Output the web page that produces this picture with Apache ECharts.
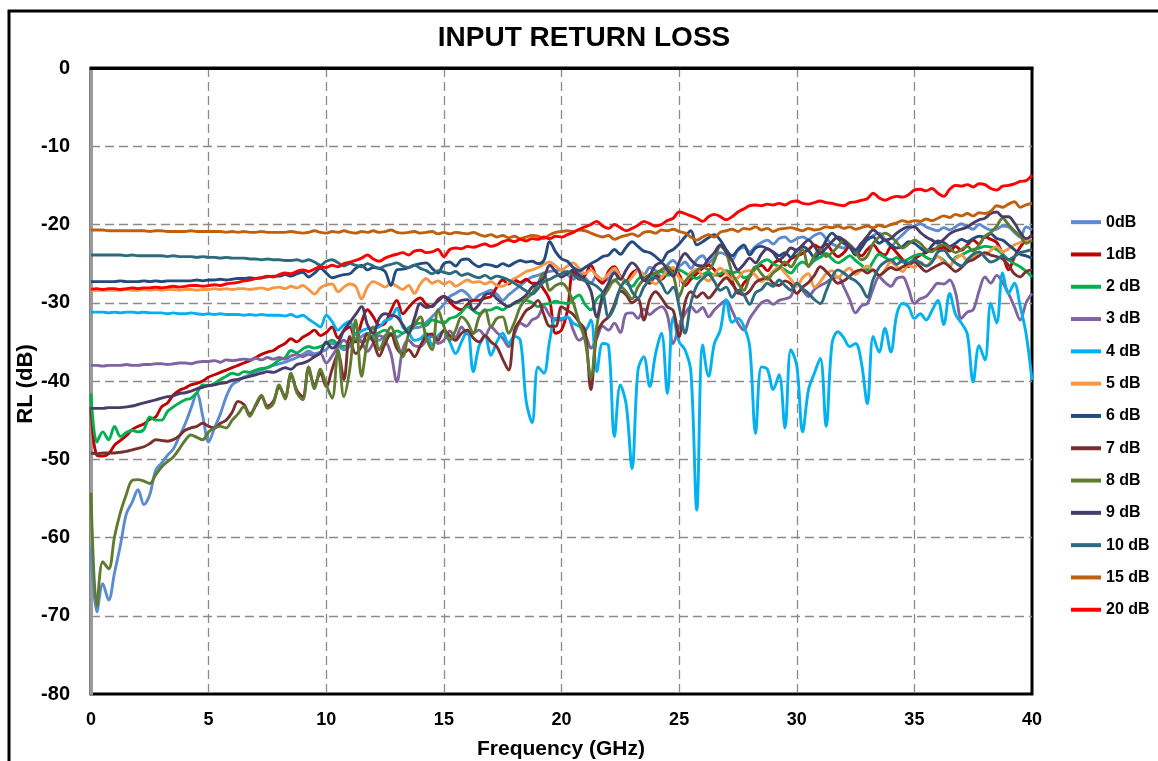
<!DOCTYPE html>
<html>
<head>
<meta charset="utf-8">
<script src="https://cdn.jsdelivr.net/npm/echarts@6/dist/echarts.min.js"></script>
<style>
html,body{margin:0;padding:0;background:#fff;}
#chart{width:1158px;height:761px;}
</style>
</head>
<body>
<div id="chart"></div>
<script>
// Frequency grid (GHz), 0.25 GHz steps from 0 to 40
const FREQ = Array.from({length:161}, (_, i) => i * 0.25);
const X_TICKS = [0,5,10,15,20,25,30,35,40];
const Y_TICKS = [0,-10,-20,-30,-40,-50,-60,-70,-80];

const SERIES_NAMES = ['0dB','1dB','2 dB','3 dB','4 dB','5 dB','6 dB','7 dB','8 dB','9 dB','10 dB','15 dB','20 dB'];

const RL_0dB = [-61.2,-69.5,-65.9,-68.0,-64.5,-61.0,-57.0,-55.5,-53.9,-55.8,-54.5,-51.4,-50.5,-49.5,-48.7,-47.1,-45.5,-43.5,-41.6,-44.5,
-47.8,-46.0,-44.2,-42.0,-40.5,-40.0,-39.5,-39.2,-38.8,-38.6,-38.3,-38.0,-37.8,-37.6,-37.3,-37.0,-36.6,-36.2,-36.5,-36.3,
-36.0,-35.2,-35.5,-36.0,-35.6,-34.8,-34.3,-33.9,-34.5,-34.8,-34.2,-33.9,-34.4,-33.9,-33.5,-33.2,-33.1,-32.5,-31.8,-31.0,
-30.2,-29.2,-28.8,-28.4,-28.9,-29.7,-29.0,-28.7,-28.4,-28.9,-29.7,-29.0,-28.4,-27.8,-27.2,-26.7,-26.5,-26.2,-26.0,-25.9,
-25.8,-26.4,-27.0,-26.2,-26.8,-27.5,-26.5,-27.3,-26.9,-26.0,-26.8,-27.4,-26.6,-25.8,-26.4,-25.5,-25.9,-26.7,-25.2,-24.6,
-25.3,-24.8,-25.6,-24.5,-24.0,-24.9,-24.2,-23.6,-23.9,-24.5,-23.3,-22.9,-23.5,-22.8,-22.3,-22.0,-22.5,-21.8,-21.6,-22.2,
-21.8,-21.6,-21.9,-21.4,-21.1,-21.8,-22.5,-22.8,-23.0,-22.6,-23.2,-22.4,-22.0,-21.4,-21.1,-21.9,-22.8,-22.0,-21.3,-20.6,
-20.2,-19.9,-20.3,-20.6,-20.8,-20.4,-20.7,-20.3,-19.9,-20.3,-20.6,-20.0,-20.4,-20.7,-20.6,-20.2,-20.3,-21.0,-21.6,-20.3,
-20.7];

const RL_1dB = [-43.3,-49.5,-49.6,-49.3,-48.2,-47.6,-47.0,-46.2,-45.8,-45.5,-44.9,-44.6,-43.3,-42.8,-41.8,-41.2,-40.9,-40.5,-40.3,-40.0,
-39.5,-39.2,-38.9,-38.6,-38.3,-38.0,-37.7,-37.4,-37.0,-36.6,-36.3,-36.1,-35.6,-35.2,-34.6,-35.0,-34.4,-34.0,-33.5,-34.2,
-33.8,-33.1,-34.5,-33.6,-33.1,-35.0,-32.5,-30.9,-31.8,-32.9,-32.6,-31.0,-29.7,-31.4,-30.6,-29.8,-29.4,-30.2,-30.5,-29.6,
-29.2,-29.9,-30.6,-30.9,-30.2,-29.7,-29.7,-29.4,-29.2,-28.0,-27.1,-27.6,-27.1,-27.4,-27.0,-27.5,-27.5,-28.3,-29.7,-33.9,
-33.5,-31.0,-26.0,-27.0,-26.5,-25.2,-26.8,-27.5,-26.0,-25.4,-26.6,-27.2,-26.2,-25.8,-26.9,-27.5,-26.5,-27.0,-26.2,-25.9,
-26.4,-27.8,-27.0,-26.3,-25.6,-25.2,-25.8,-26.6,-26.0,-27.2,-28.8,-27.5,-26.7,-25.6,-25.2,-25.9,-25.0,-24.6,-25.2,-24.4,
-24.0,-23.7,-23.2,-22.6,-23.0,-22.5,-23.4,-24.1,-23.6,-22.8,-23.5,-24.0,-23.2,-22.6,-23.5,-23.9,-22.9,-23.6,-24.5,-25.4,
-24.4,-23.9,-23.6,-23.2,-23.1,-22.9,-23.4,-22.8,-23.3,-22.6,-22.0,-22.5,-21.6,-21.9,-22.3,-23.8,-25.8,-24.2,-22.9,-22.0,
-21.7];

const RL_2dB = [-41.6,-47.8,-46.5,-47.5,-45.8,-47.1,-46.6,-46.3,-46.5,-46.2,-44.6,-45.0,-45.0,-43.9,-43.3,-42.8,-42.4,-42.2,-41.5,-40.5,
-40.6,-40.3,-39.8,-39.4,-39.0,-39.2,-38.8,-38.9,-38.6,-38.4,-38.3,-37.9,-37.3,-37.0,-36.1,-36.4,-35.9,-35.6,-35.8,-35.6,
-35.2,-34.8,-35.3,-35.6,-35.2,-34.6,-35.0,-34.8,-34.2,-33.8,-33.5,-34.2,-33.6,-33.9,-33.2,-32.8,-32.6,-32.9,-32.2,-32.4,
-32.6,-32.0,-31.8,-31.2,-30.5,-31.0,-31.4,-31.0,-30.9,-30.6,-30.9,-30.4,-30.1,-29.8,-29.7,-30.0,-30.5,-30.2,-30.1,-29.8,
-30.0,-30.1,-29.5,-29.0,-30.2,-30.9,-29.5,-28.8,-27.8,-27.2,-26.7,-27.5,-27.9,-27.0,-26.5,-26.9,-26.2,-26.0,-26.5,-26.3,
-25.8,-26.2,-26.6,-26.9,-26.4,-26.1,-26.5,-26.3,-25.9,-26.2,-26.0,-26.8,-26.5,-25.6,-24.8,-24.5,-25.0,-25.4,-25.8,-26.2,
-25.3,-24.8,-25.2,-24.6,-24.2,-23.7,-24.4,-24.9,-24.5,-24.0,-24.6,-25.2,-25.8,-24.7,-23.8,-24.2,-24.6,-24.2,-24.8,-24.4,
-24.0,-23.8,-24.2,-24.5,-24.1,-24.6,-25.3,-24.2,-23.9,-23.5,-23.2,-23.0,-22.8,-22.9,-23.2,-23.8,-24.5,-25.0,-25.4,-26.0,
-26.7];

const RL_3dB = [-38.0,-38.0,-38.1,-38.0,-38.0,-38.0,-37.9,-38.0,-38.0,-37.9,-37.9,-37.8,-37.8,-37.9,-37.8,-37.7,-37.7,-37.8,-37.6,-37.5,
-37.5,-37.4,-37.6,-37.3,-37.4,-37.3,-37.2,-37.3,-37.1,-37.3,-37.0,-37.2,-37.0,-37.2,-36.8,-36.6,-36.9,-36.6,-36.8,-36.5,
-37.7,-36.8,-35.6,-34.8,-35.5,-33.9,-35.0,-36.2,-35.2,-34.2,-34.8,-36.5,-40.1,-36.0,-34.8,-35.5,-35.6,-34.8,-34.3,-35.2,
-34.8,-33.6,-34.4,-33.1,-34.0,-33.9,-33.5,-34.2,-33.1,-33.8,-34.5,-35.6,-34.0,-32.6,-33.0,-32.2,-31.8,-30.5,-31.6,-32.2,
-32.2,-31.8,-33.5,-34.8,-34.3,-35.8,-34.5,-33.0,-33.5,-32.6,-33.8,-31.4,-31.3,-32.0,-30.8,-31.5,-30.9,-30.5,-31.6,-35.2,
-33.0,-31.4,-30.5,-31.2,-30.6,-31.8,-30.9,-30.2,-29.7,-31.0,-32.6,-33.5,-32.0,-30.9,-30.0,-29.7,-30.2,-29.7,-29.5,-29.2,
-27.5,-28.4,-29.2,-28.3,-27.8,-27.4,-26.9,-26.7,-28.0,-29.6,-31.3,-30.4,-30.1,-28.2,-26.7,-27.4,-27.9,-26.9,-26.7,-28.2,
-30.1,-29.5,-29.2,-28.3,-27.5,-27.6,-27.1,-28.7,-32.0,-31.2,-30.9,-28.5,-26.7,-27.5,-26.5,-27.4,-28.8,-30.5,-32.2,-30.0,
-28.8];

const RL_4dB = [-31.2,-31.2,-31.2,-31.3,-31.2,-31.3,-31.2,-31.2,-31.3,-31.2,-31.3,-31.3,-31.3,-31.4,-31.3,-31.4,-31.4,-31.3,-31.4,-31.5,
-31.4,-31.5,-31.4,-31.5,-31.5,-31.5,-31.6,-31.5,-31.6,-31.5,-31.6,-31.6,-31.6,-31.7,-31.5,-31.8,-31.6,-32.1,-32.6,-33.1,
-31.6,-32.4,-33.5,-32.8,-32.4,-34.1,-33.6,-33.3,-33.2,-33.1,-32.3,-32.0,-30.7,-33.1,-33.8,-34.8,-34.6,-33.9,-35.4,-34.2,
-33.7,-35.0,-36.5,-35.0,-33.5,-38.8,-35.5,-34.3,-36.7,-35.0,-33.9,-35.2,-34.3,-34.8,-42.6,-45.3,-38.2,-39.0,-34.8,-32.0,
-32.0,-31.8,-32.6,-33.0,-33.5,-32.2,-38.8,-35.2,-35.5,-47.1,-40.5,-43.0,-51.2,-38.6,-36.9,-40.7,-36.5,-33.9,-41.6,-31.8,
-35.0,-36.0,-38.8,-56.5,-35.4,-39.4,-35.2,-33.5,-29.6,-32.5,-32.0,-33.0,-35.6,-46.7,-38.2,-38.5,-41.1,-39.2,-46.0,-36.0,
-38.0,-46.5,-41.1,-39.0,-37.1,-45.8,-35.2,-33.7,-34.5,-35.6,-35.2,-37.7,-42.9,-34.3,-36.3,-33.3,-36.3,-31.5,-30.1,-30.5,
-32.0,-31.4,-32.2,-31.0,-29.7,-32.8,-28.8,-31.5,-32.6,-34.0,-40.1,-35.5,-37.3,-30.1,-32.6,-26.2,-28.8,-27.5,-30.5,-34.0,
-39.9];

const RL_5dB = [-28.4,-28.4,-28.4,-28.4,-28.4,-28.4,-28.3,-28.4,-28.4,-28.3,-28.4,-28.3,-28.4,-28.3,-28.3,-28.4,-28.3,-28.3,-28.4,-28.3,
-28.3,-28.2,-28.3,-28.2,-28.3,-28.2,-28.2,-28.3,-28.2,-28.1,-28.3,-28.1,-28.0,-28.2,-27.9,-28.1,-27.8,-28.3,-28.9,-28.1,
-27.7,-27.6,-28.6,-28.0,-27.6,-27.9,-29.5,-28.0,-27.3,-27.6,-28.0,-27.5,-27.9,-28.3,-27.8,-28.8,-27.6,-26.9,-27.5,-27.2,
-27.6,-27.3,-27.9,-27.5,-27.1,-27.4,-27.3,-27.6,-27.3,-27.8,-27.9,-27.4,-26.9,-26.5,-26.0,-25.8,-25.5,-25.1,-24.8,-25.3,
-25.8,-25.3,-24.9,-25.6,-26.3,-25.8,-26.6,-27.0,-26.3,-25.6,-26.7,-27.4,-26.7,-25.9,-26.4,-27.1,-27.6,-26.8,-25.9,-25.5,
-26.8,-27.3,-26.1,-25.7,-26.6,-27.2,-26.4,-25.6,-26.2,-27.0,-26.8,-26.0,-25.9,-26.5,-27.3,-26.7,-26.0,-25.4,-26.2,-27.0,
-27.9,-26.8,-26.3,-28.0,-27.3,-26.3,-25.9,-26.8,-26.1,-25.6,-26.4,-25.8,-25.3,-25.9,-26.5,-25.8,-24.8,-25.4,-26.0,-25.2,
-25.5,-24.8,-25.3,-24.6,-24.1,-24.8,-25.2,-24.4,-23.9,-24.6,-24.2,-23.6,-23.9,-23.3,-22.8,-23.5,-23.1,-22.6,-22.3,-22.0,
-21.9];

const RL_6dB = [-27.3,-27.3,-27.3,-27.3,-27.3,-27.2,-27.3,-27.3,-27.3,-27.2,-27.3,-27.2,-27.3,-27.2,-27.2,-27.2,-27.2,-27.2,-27.1,-27.2,
-27.1,-27.1,-27.0,-27.1,-27.0,-26.9,-26.9,-26.8,-26.9,-26.8,-26.7,-26.6,-26.6,-26.4,-26.6,-26.3,-26.1,-26.7,-26.2,-25.6,
-26.2,-26.8,-26.6,-26.4,-26.3,-25.6,-25.2,-25.8,-25.5,-25.6,-26.0,-27.8,-25.8,-25.7,-25.5,-25.2,-25.0,-24.9,-25.6,-26.2,
-25.0,-24.8,-25.3,-24.5,-24.4,-25.0,-25.4,-25.1,-25.2,-25.4,-25.0,-25.3,-24.9,-24.6,-24.8,-24.7,-25.0,-24.6,-22.2,-23.5,
-24.4,-24.7,-25.5,-25.9,-25.5,-25.0,-24.6,-24.1,-23.9,-23.2,-23.8,-22.9,-22.2,-22.8,-23.4,-23.6,-24.1,-24.7,-23.6,-23.2,
-22.5,-21.6,-20.8,-22.6,-22.2,-21.7,-21.3,-22.0,-23.2,-24.0,-23.2,-22.6,-23.9,-23.0,-22.8,-23.1,-23.5,-24.0,-23.6,-24.2,
-23.3,-22.8,-23.3,-24.2,-23.5,-22.0,-21.1,-21.8,-22.4,-22.9,-23.9,-23.0,-21.9,-21.6,-22.4,-22.0,-22.6,-23.0,-22.8,-22.2,
-22.4,-23.0,-23.5,-22.7,-22.1,-22.3,-22.8,-22.4,-21.9,-22.2,-21.8,-21.5,-21.6,-21.2,-21.8,-22.0,-22.6,-23.2,-23.8,-24.0,
-24.3];

const RL_7dB = [-49.2,-49.3,-49.2,-49.2,-49.2,-49.1,-49.0,-48.8,-48.6,-48.4,-48.0,-47.5,-47.6,-47.7,-47.5,-47.0,-46.3,-46.0,-45.8,-45.4,
-45.8,-46.0,-45.4,-45.0,-44.0,-42.6,-43.0,-44.2,-43.2,-42.0,-43.2,-42.6,-40.8,-42.0,-39.2,-41.2,-42.0,-38.5,-40.5,-39.0,
-40.7,-38.5,-36.5,-39.8,-34.3,-36.5,-35.6,-34.0,-35.0,-36.8,-35.2,-34.0,-35.8,-36.5,-36.0,-36.9,-35.5,-34.2,-34.0,-34.8,
-33.5,-34.2,-34.8,-33.9,-33.5,-34.5,-35.0,-34.2,-35.0,-35.6,-37.2,-38.6,-33.5,-32.2,-31.0,-30.5,-29.7,-31.5,-33.0,-33.0,
-30.5,-31.0,-31.5,-32.5,-33.5,-41.1,-34.0,-32.5,-31.8,-30.2,-28.5,-29.0,-30.0,-29.5,-32.2,-29.6,-28.6,-29.4,-30.5,-31.0,
-34.3,-30.0,-28.6,-29.3,-28.7,-29.4,-28.6,-27.5,-26.8,-27.6,-28.6,-29.0,-28.5,-27.4,-27.0,-26.8,-27.5,-27.8,-27.2,-27.6,
-28.8,-28.0,-27.4,-26.5,-25.4,-26.0,-26.8,-27.5,-27.2,-26.6,-26.0,-25.8,-26.2,-25.8,-26.5,-26.0,-25.5,-25.8,-25.4,-25.0,
-24.8,-25.4,-26.0,-25.6,-25.2,-24.9,-25.4,-26.0,-25.5,-24.8,-24.5,-24.0,-23.6,-23.9,-24.1,-24.4,-25.2,-26.3,-26.7,-26.0,
-25.8];

const RL_8dB = [-54.3,-68.8,-63.1,-64.0,-59.9,-56.8,-54.5,-52.7,-52.6,-52.8,-53.1,-52.0,-51.0,-50.3,-49.7,-48.7,-47.6,-46.9,-47.2,-47.5,
-46.5,-46.0,-45.8,-46.0,-45.0,-44.2,-43.3,-44.5,-43.0,-41.8,-43.5,-42.9,-40.5,-42.3,-39.0,-41.5,-42.4,-38.2,-41.0,-38.5,
-40.5,-42.2,-36.0,-42.0,-38.5,-32.2,-39.4,-35.0,-33.1,-36.0,-34.5,-33.1,-35.0,-36.9,-34.0,-32.8,-31.8,-34.5,-36.0,-30.9,
-33.0,-34.8,-33.5,-31.8,-32.5,-33.9,-31.8,-30.9,-33.1,-32.0,-31.8,-33.9,-32.5,-30.5,-29.5,-28.8,-27.5,-26.2,-28.4,-27.8,
-27.5,-28.2,-30.0,-32.5,-34.8,-39.5,-33.0,-29.5,-28.2,-27.1,-27.8,-28.6,-29.5,-28.0,-27.0,-26.4,-26.2,-25.8,-25.4,-26.5,
-29.2,-27.3,-26.5,-25.9,-25.4,-25.8,-24.6,-22.8,-23.6,-26.2,-27.5,-28.4,-26.6,-25.4,-26.3,-27.0,-26.2,-25.6,-24.8,-25.4,
-24.3,-23.2,-25.4,-24.0,-23.2,-24.1,-23.6,-22.8,-22.0,-22.6,-23.5,-24.5,-24.0,-22.4,-21.6,-21.1,-21.5,-22.3,-23.0,-22.5,
-22.0,-22.4,-23.2,-23.5,-22.8,-22.6,-23.0,-23.6,-23.2,-22.8,-23.4,-22.6,-21.5,-21.0,-20.2,-19.2,-20.0,-20.8,-21.5,-22.4,
-22.0];

const RL_9dB = [-43.5,-43.5,-43.5,-43.4,-43.4,-43.4,-43.3,-43.2,-43.0,-42.8,-42.6,-42.4,-42.2,-42.0,-41.9,-41.6,-41.5,-41.3,-41.0,-40.8,
-40.6,-40.5,-40.3,-40.2,-39.9,-39.8,-39.6,-39.4,-39.2,-39.0,-38.8,-38.9,-38.6,-38.3,-38.5,-37.9,-37.7,-37.4,-36.9,-36.4,
-35.0,-35.8,-35.2,-33.5,-32.5,-31.5,-30.5,-32.8,-33.9,-32.0,-31.4,-31.6,-31.8,-32.8,-33.9,-32.0,-30.1,-30.6,-30.4,-29.8,
-29.2,-29.6,-30.0,-29.7,-29.6,-30.9,-30.2,-29.0,-28.8,-29.5,-30.1,-30.5,-30.0,-29.6,-29.0,-28.0,-27.5,-26.8,-25.2,-26.0,
-26.7,-26.3,-25.8,-26.5,-27.1,-28.5,-31.8,-29.0,-27.5,-26.2,-27.0,-25.8,-24.9,-25.6,-27.2,-26.5,-25.2,-24.9,-25.8,-26.6,
-24.8,-23.7,-24.5,-25.2,-25.3,-24.4,-23.6,-22.6,-23.5,-24.6,-25.8,-25.1,-24.3,-24.9,-23.8,-23.1,-23.6,-24.5,-23.9,-23.0,
-23.3,-22.6,-22.0,-22.8,-23.7,-23.0,-22.2,-21.6,-22.0,-22.8,-23.3,-22.4,-21.5,-20.7,-21.3,-22.0,-21.8,-21.1,-20.6,-20.3,
-20.3,-21.0,-21.6,-22.0,-22.4,-21.9,-21.2,-20.8,-20.6,-20.3,-19.8,-19.4,-19.2,-18.6,-18.4,-19.0,-19.0,-19.8,-21.0,-21.8,
-21.3];

const RL_10dB = [-23.9,-23.9,-23.9,-23.9,-23.9,-23.9,-24.0,-23.9,-24.0,-24.0,-24.0,-24.0,-24.0,-24.1,-24.0,-24.1,-24.1,-24.1,-24.2,-24.1,
-24.2,-24.2,-24.3,-24.2,-24.3,-24.3,-24.3,-24.4,-24.4,-24.5,-24.4,-24.5,-24.5,-24.6,-24.6,-24.5,-24.7,-24.5,-24.8,-25.2,
-24.7,-24.5,-24.9,-25.3,-25.0,-25.2,-25.4,-25.0,-25.3,-25.6,-25.3,-25.1,-24.9,-25.3,-25.5,-25.2,-25.6,-25.9,-26.3,-25.9,
-26.1,-26.3,-26.0,-26.5,-26.3,-26.6,-26.8,-26.5,-26.9,-26.6,-26.8,-27.1,-27.5,-28.0,-28.5,-28.9,-28.2,-27.3,-27.0,-26.6,
-26.3,-26.0,-26.5,-26.9,-27.2,-27.5,-27.9,-28.7,-31.8,-30.5,-28.1,-27.2,-28.6,-29.4,-28.0,-27.1,-26.8,-27.6,-28.8,-28.0,
-30.5,-33.9,-30.0,-27.8,-26.9,-26.4,-27.3,-28.4,-28.0,-29.3,-28.4,-29.0,-30.2,-28.7,-28.3,-27.5,-27.9,-27.1,-27.8,-28.4,
-27.5,-28.2,-28.8,-29.6,-30.1,-28.5,-26.7,-25.8,-26.2,-26.8,-27.2,-28.0,-29.3,-27.0,-25.5,-24.8,-24.5,-25.1,-24.6,-24.9,
-24.5,-24.9,-25.3,-24.8,-23.5,-23.3,-24.2,-24.9,-25.3,-24.5,-23.8,-23.5,-24.2,-24.8,-24.5,-24.0,-24.5,-24.1,-23.6,-23.4,
-23.2];

const RL_15dB = [-20.7,-20.7,-20.7,-20.8,-20.8,-20.8,-20.8,-20.8,-20.8,-20.8,-20.9,-20.8,-20.8,-20.9,-20.9,-20.9,-20.9,-20.8,-20.9,-20.9,
-20.9,-20.9,-20.9,-21.0,-20.9,-21.0,-20.9,-21.0,-21.0,-20.9,-21.0,-21.0,-21.0,-21.0,-20.9,-21.0,-21.1,-21.0,-20.8,-21.0,
-21.1,-20.9,-21.0,-20.8,-21.0,-21.1,-20.9,-21.0,-20.8,-21.0,-20.9,-20.7,-21.0,-21.1,-21.0,-20.9,-21.1,-21.0,-20.9,-21.2,
-21.0,-21.2,-21.0,-21.1,-21.2,-21.0,-21.3,-21.5,-21.3,-21.6,-21.4,-21.7,-21.5,-21.8,-21.6,-21.4,-21.5,-21.8,-21.3,-21.0,
-20.9,-20.8,-20.9,-20.7,-20.8,-21.1,-21.4,-21.6,-21.4,-21.9,-21.6,-21.4,-21.2,-21.5,-21.0,-20.9,-21.1,-20.7,-20.8,-20.6,
-20.9,-21.1,-21.6,-22.0,-21.6,-21.3,-21.6,-21.0,-20.8,-20.6,-20.9,-20.5,-20.6,-20.3,-20.7,-20.5,-20.9,-20.6,-20.5,-20.4,
-20.6,-20.8,-20.5,-20.7,-20.6,-20.3,-20.4,-20.2,-20.5,-20.3,-20.6,-20.4,-20.2,-20.4,-20.1,-20.3,-20.0,-19.8,-19.5,-19.7,
-19.5,-19.6,-19.3,-19.5,-19.2,-18.9,-19.1,-18.7,-18.9,-18.6,-18.9,-18.5,-18.6,-18.3,-17.6,-17.8,-17.4,-17.1,-17.8,-17.5,
-17.3];

const RL_20dB = [-28.3,-28.2,-28.3,-28.2,-28.2,-28.3,-28.2,-28.1,-28.2,-28.1,-28.1,-28.0,-28.1,-28.0,-27.9,-28.0,-27.9,-27.8,-27.8,-27.9,
-27.8,-27.7,-27.8,-27.6,-27.5,-27.4,-27.2,-27.1,-26.9,-26.8,-26.6,-26.7,-26.4,-26.2,-26.3,-26.0,-25.8,-26.0,-25.7,-25.4,
-25.5,-25.2,-25.4,-25.0,-24.8,-24.6,-24.3,-23.9,-24.4,-24.7,-24.3,-24.0,-23.8,-23.6,-23.9,-23.4,-23.3,-23.6,-23.5,-23.2,
-24.1,-23.2,-23.0,-23.1,-22.8,-22.9,-22.7,-22.5,-22.8,-22.6,-22.2,-22.0,-22.2,-21.9,-22.1,-21.8,-21.9,-21.6,-21.8,-21.5,
-21.6,-21.3,-21.0,-20.6,-20.3,-20.0,-19.6,-20.2,-20.5,-20.0,-20.4,-20.8,-20.5,-20.1,-19.6,-19.9,-20.2,-20.0,-19.5,-19.2,
-18.4,-18.6,-18.9,-19.2,-19.6,-19.0,-18.7,-19.0,-19.4,-19.0,-18.4,-18.0,-17.6,-17.5,-17.6,-17.4,-17.5,-17.3,-17.5,-17.1,
-17.0,-17.3,-17.4,-17.2,-17.0,-17.2,-17.3,-17.5,-17.6,-17.2,-17.1,-16.9,-16.7,-16.0,-16.6,-16.9,-16.6,-16.4,-16.5,-16.2,
-15.6,-15.5,-15.7,-15.4,-16.0,-16.4,-15.5,-15.0,-15.1,-14.9,-15.2,-14.8,-14.9,-15.4,-15.6,-15.1,-15.0,-14.8,-14.5,-14.4,
-13.7];

const SERIES_VALUES = [RL_0dB, RL_1dB, RL_2dB, RL_3dB, RL_4dB, RL_5dB, RL_6dB, RL_7dB, RL_8dB, RL_9dB, RL_10dB, RL_15dB, RL_20dB];
const SERIES_COLORS = ['#5B8BD0','#C00000','#00B050','#8064A2','#00B0F0','#F79646','#254A7E','#7B2E2E','#5F7B31','#4A3C68','#2C6B7D','#C0600E','#FF0000'];

const FONT = '"Liberation Sans", Arial, sans-serif';

const chart = echarts.init(document.getElementById('chart'), null, {renderer: 'canvas'});

const series = SERIES_NAMES.map((name, k) => ({
  name: name,
  type: 'line',
  showSymbol: false,
  symbol: 'none',
  smooth: 0.35,
  animation: false,
  color: SERIES_COLORS[k],
  lineStyle: {width: 2.9, color: SERIES_COLORS[k]},
  data: FREQ.map((f, i) => [f, SERIES_VALUES[k][i]])
}));

chart.setOption({
  animation: false,
  backgroundColor: '#fff',
  grid: {left: 91, right: 126, top: 68, bottom: 67, show: true, borderColor: '#000', borderWidth: 3, backgroundColor: 'transparent'},
  xAxis: {
    type: 'value', min: X_TICKS[0], max: X_TICKS[X_TICKS.length - 1], interval: 5,
    axisLine: {show: true, lineStyle: {color: '#000', width: 3}},
    axisTick: {show: false},
    axisLabel: {color: '#000', fontFamily: FONT, fontWeight: 'bold', fontSize: 18, margin: 17},
    splitLine: {show: true, showMinLine: false, showMaxLine: false, lineStyle: {color: '#8a8a8a', width: 1.3, type: [9, 5]}}
  },
  yAxis: {
    type: 'value', min: Y_TICKS[Y_TICKS.length - 1], max: Y_TICKS[0], interval: 10,
    axisLine: {show: true, lineStyle: {color: '#9a9a9a', width: 3}},
    axisTick: {show: false},
    axisLabel: {color: '#000', fontFamily: FONT, fontWeight: 'bold', fontSize: 20, margin: 21},
    splitLine: {show: true, showMinLine: false, showMaxLine: false, lineStyle: {color: '#8a8a8a', width: 1.3, type: [9, 5]}}
  },
  legend: {
    orient: 'vertical', left: 1066, top: 209,
    icon: 'rect', itemWidth: 30, itemHeight: 4, itemGap: 16,
    textStyle: {color: '#000', fontFamily: FONT, fontWeight: 'bold', fontSize: 16, lineHeight: 16.3, padding: [0, 0, 0, 0]},
    data: SERIES_NAMES
  },
  graphic: [
    {type: 'polyline', silent: true, shape: {points: [[9, 780], [9, 11], [1170, 11]]}, style: {stroke: '#000', lineWidth: 3, fill: null}},
    {type: 'text', silent: true, x: 584, y: 38, style: {text: 'INPUT RETURN LOSS', fill: '#000', font: 'bold 28px ' + FONT, textAlign: 'center', textVerticalAlign: 'middle'}},
    {type: 'text', silent: true, x: 561, y: 749, style: {text: 'Frequency (GHz)', fill: '#000', font: 'bold 21px ' + FONT, textAlign: 'center', textVerticalAlign: 'middle'}},
    {type: 'text', silent: true, x: 26, y: 384, rotation: Math.PI / 2, style: {text: 'RL (dB)', fill: '#000', font: 'bold 22px ' + FONT, textAlign: 'center', textVerticalAlign: 'middle'}}
  ],
  series: series
});
</script>
</body>
</html>
